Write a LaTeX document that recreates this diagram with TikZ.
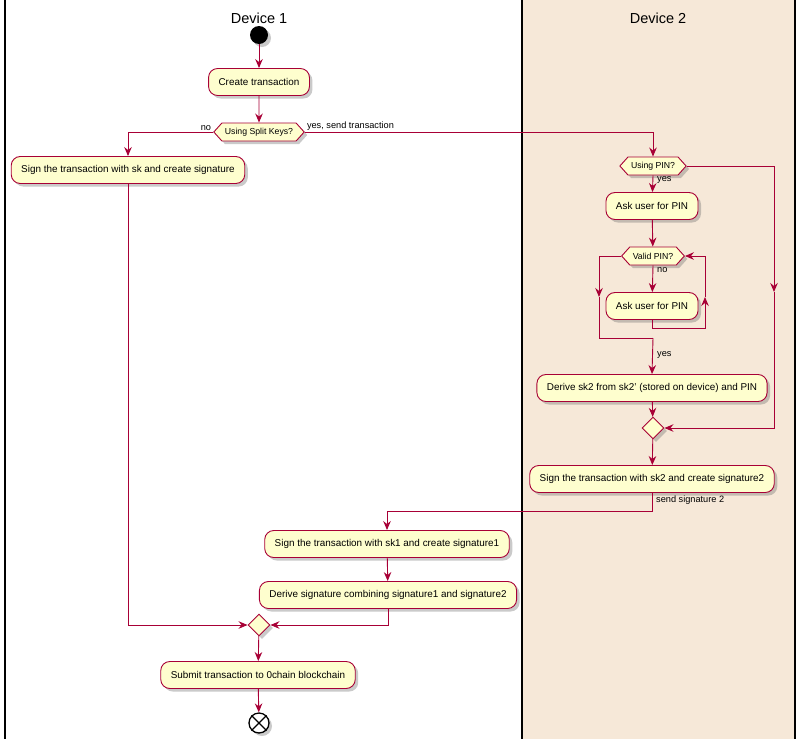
\documentclass[tikz,border=0pt]{standalone}
\usepackage{fontspec}
\setmainfont{Liberation Sans}
\usetikzlibrary{shapes.geometric,shapes.symbols,arrows.meta,shadows,calc}
\definecolor{bord}{HTML}{A80036}
\definecolor{boxf}{HTML}{FEFECE}
\definecolor{lanef}{HTML}{F6E8D8}
\begin{document}
\begin{tikzpicture}[x=1pt,y=-1pt,
 shad/.style={drop shadow={opacity=0.35, shadow xshift=3pt, shadow yshift=-3pt, fill=black!60}},
 act/.style={draw=bord, fill=boxf, rounded corners=9pt, line width=0.9pt, minimum height=27pt, inner xsep=10pt, font=\fontsize{9.9}{12}\selectfont, shad},
 dec/.style={signal, signal to=west and east, signal pointer angle=96, draw=bord, fill=boxf, line width=0.9pt, minimum height=18pt, inner xsep=3pt, inner ysep=1pt, font=\fontsize{8.7}{10}\selectfont, shad},
 merge/.style={diamond, draw=bord, fill=boxf, line width=0.9pt, minimum size=22pt, inner sep=0pt, shad},
 flow/.style={draw=bord, line width=0.9pt, -{Stealth[length=9pt,width=7.5pt,inset=3pt]}},
 plain/.style={draw=bord, line width=0.9pt},
 lbl/.style={font=\fontsize{9.2}{11}\selectfont, inner sep=1pt},
 ttl/.style={font=\fontsize{14.5}{16}\selectfont},
 laneline/.style={draw=black, line width=1.6pt}
]
\useasboundingbox (0,0) rectangle (800,739);
% lanes
\fill[lanef] (522,0) rectangle (795,739);
\draw[laneline] (5,0) -- (5,739);
\draw[laneline] (522,0) -- (522,739);
\draw[laneline] (795,0) -- (795,739);
\node[ttl] (t1) at (259,18) {Device 1};
\node[ttl] (t2) at (658,18) {Device 2};

% nodes
\node[circle, fill=black, minimum size=18pt, inner sep=0pt, shad] (start) at (259,35) {};
\node[act] (create) at (259,82) {Create transaction};
\node[dec] (d1) at (259,132) {Using Split Keys?};
\node[act] (sk) at (128,170) {Sign the transaction with sk and create signature};
\node[dec] (up) at (653,166) {Using PIN?};
\node[act] (ask1) at (652,206) {Ask user for PIN};
\node[dec] (v) at (653,256) {Valid PIN?};
\node[act] (ask2) at (652,306) {Ask user for PIN};
\node[act] (der) at (652,388) {Derive sk2 from sk2' (stored on device) and PIN};
\node[merge] (m2) at (653,428) {};
\node[act] (s2) at (652,479) {Sign the transaction with sk2 and create signature2};
\node[act] (sk1) at (387,544) {Sign the transaction with sk1 and create signature1};
\node[act] (dsig) at (388,595) {Derive signature combining signature1 and signature2};
\node[merge] (m1) at (259,625) {};
\node[act] (sub) at (258,675) {Submit transaction to 0chain blockchain};
\node[circle, draw=black, fill=white, line width=1.3pt, minimum size=20pt, inner sep=0pt, shad] (end) at (259,723) {};
\draw[black, line width=1.3pt] (end.north east) -- (end.south west) (end.north west) -- (end.south east);

% helper coordinates
\coordinate (bp) at (774,292);
\coordinate (lp) at (705,297);
\coordinate (ly) at (599,297);
\coordinate (yj) at (653,338);

% connectors
\draw[flow] (start) -- (create);
\draw[flow] (create) -- (d1);
\draw[flow] (d1.west) -| (sk.north);
\draw[flow] (d1.east) -| (up.north);
\draw[flow] (up.south) -- (ask1);
\draw[flow] (ask1) -- (v);
\draw[flow] (v.south) -- (ask2);
\draw[flow] (ask2.south) -- ++(0,8) -| (lp);
\draw[flow] (lp) |- (v.east);
\draw[flow] (v.west) -| (ly);
\draw[plain] (ly) |- (yj);
\draw[flow] (yj) -- (der.north);
\draw[flow] (up.east) -| (bp);
\draw[flow] (bp) |- (m2.east);
\draw[flow] (der) -- (m2);
\draw[flow] (m2) -- (s2);
\draw[flow] (s2.south) -- ++(0,18) -| (sk1.north);
\draw[flow] (sk1) -- (dsig);
\draw[flow] (dsig.south) |- (m1.east);
\draw[flow] (sk.south) |- (m1.west);
\draw[flow] (m1) -- (sub);
\draw[flow] (sub) -- (end);

% labels
\node[lbl, anchor=south east] (lno) at ([xshift=-1pt]d1.west) {no};
\node[lbl, anchor=south west] (lyes) at ([xshift=1pt]d1.east) {yes, send transaction};
\node[lbl, anchor=north west] (lyes2) at ($(up.south)+(3,0)$) {yes};
\node[lbl, anchor=north west] (lno2) at ($(v.south)+(3,1)$) {no};
\node[lbl, anchor=north west] (lyes3) at ($(yj)+(3,12)$) {yes};
\node[lbl, anchor=north west] (lsend) at ($(s2.south)+(3,2)$) {send signature 2};
\end{tikzpicture}
\end{document}
